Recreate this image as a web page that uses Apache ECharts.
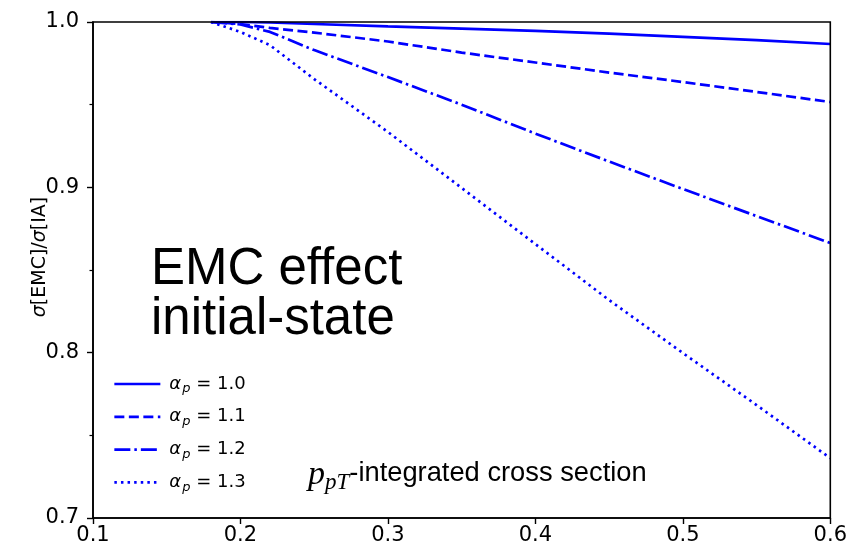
<!DOCTYPE html>
<html lang="en">
  <head>
    <meta charset="UTF-8" />
    <script src="https://cdnjs.cloudflare.com/ajax/libs/echarts/6.0.0/echarts.min.js"></script>
    <title>EMC effect initial-state</title>
  </head>
  <body style="margin: 0">
    <div id="main" style="width: 850px; height: 550px"></div>
    <script>
      // x = p_pT range, ratio sigma[EMC]/sigma[IA] for each alpha_p
      var xValues = [0.18, 0.2, 0.22, 0.25, 0.3, 0.35, 0.4, 0.45, 0.5, 0.55, 0.6];
      var alpha10 = [1.0, 1.0, 0.9997, 0.9988, 0.9973, 0.996, 0.9946, 0.993, 0.991, 0.989, 0.9867];
      var alpha11 = [1.0, 0.9988, 0.9964, 0.9936, 0.9882, 0.9815, 0.9755, 0.9694, 0.9637, 0.9577, 0.9516];
      var alpha12 = [1.0, 0.9985, 0.994, 0.983, 0.9667, 0.95, 0.9325, 0.9156, 0.899, 0.8826, 0.8663];
      var alpha13 = [1.0, 0.994, 0.986, 0.9655, 0.9335, 0.8996, 0.8657, 0.8318, 0.7998, 0.7683, 0.7362];
      var alphaLabels = ["1.0", "1.1", "1.2", "1.3"];
      var dashTypes = ["solid", [10, 4.5], [16, 4, 2.5, 4], [2.5, 4.1]];

      var chart = echarts.init(document.getElementById("main"));

      var allSeries = [alpha10, alpha11, alpha12, alpha13];
      var seriesList = allSeries.map(function (vals, i) {
        return {
          name: alphaLabels[i],
          type: "line",
          symbol: "none",
          smooth: false,
          z: 2,
          data: xValues.map(function (x, j) {
            return [x, vals[j]];
          }),
          lineStyle: { color: "#0000ff", width: 2.7, type: dashTypes[i], cap: "butt" },
          itemStyle: { color: "#0000ff" },
        };
      });

      var tickFont = { fontFamily: "DejaVu Sans", fontSize: 21, color: "#000" };

      var option = {
        animation: false,
        backgroundColor: "#fff",
        grid: {
          left: 93,
          right: 17,
          top: 22,
          bottom: 32,
          show: true,
          borderColor: "#000",
          borderWidth: 1.6,
          z: 5,
        },
        legend: {
          orient: "vertical",
          left: 108,
          top: 370,
          itemWidth: 46,
          itemHeight: 12,
          itemGap: 12.3,
          data: alphaLabels,
          itemStyle: { opacity: 0 },
          lineStyle: { width: 2.7 },
          formatter: function (name) {
            return "{a|α}{s|p}{b| = " + name + "}";
          },
          textStyle: {
            fontFamily: "DejaVu Sans",
            fontSize: 18,
            color: "#000",
            rich: {
              a: { fontFamily: "DejaVu Sans", fontStyle: "italic", fontSize: 18, color: "#000", padding: [0, 1, 0, 4] },
              s: { fontFamily: "DejaVu Sans", fontStyle: "italic", fontSize: 13, color: "#000", padding: [10, 0, 0, 0] },
              b: { fontFamily: "DejaVu Sans", fontSize: 18, color: "#000" },
            },
          },
        },
        xAxis: {
          type: "value",
          min: 0.1,
          max: 0.6,
          interval: 0.1,
          z: 6,
          axisLine: { show: true, lineStyle: { color: "#000", width: 1.6 } },
          axisTick: { show: true, inside: false, length: 6, lineStyle: { color: "#000", width: 1.4 } },
          axisLabel: Object.assign({ margin: 7, formatter: function (v) { return v.toFixed(1); } }, tickFont),
          splitLine: { show: false },
        },
        yAxis: {
          type: "value",
          min: 0.7,
          max: 1.0,
          interval: 0.1,
          z: 6,
          name: "{i|σ}[EMC]/{i|σ}[IA]",
          nameLocation: "middle",
          nameGap: 43,
          nameMoveOverlap: false,
          nameTextStyle: {
            fontFamily: "DejaVu Sans",
            fontSize: 19,
            color: "#000",
            padding: [0, 0, 0, 26],
            rich: {
              i: { fontFamily: "DejaVu Sans", fontStyle: "italic", fontSize: 19, color: "#000" },
            },
          },
          axisLine: { show: true, lineStyle: { color: "#000", width: 1.6 } },
          axisTick: { show: true, inside: false, length: 6, lineStyle: { color: "#000", width: 1.4 } },
          minorTick: { show: true, splitNumber: 2, length: 3.5, lineStyle: { color: "#000", width: 1.2 } },
          axisLabel: Object.assign({ margin: 14, formatter: function (v) { return v.toFixed(1); } }, tickFont),
          splitLine: { show: false },
        },
        graphic: [
          {
            type: "text",
            left: 151,
            top: 244,
            style: {
              text: "EMC effect\ninitial-state",
              fontFamily: "Liberation Sans",
              fontSize: 51,
              lineHeight: 50,
              fill: "#000",
            },
          },
          {
            type: "text",
            left: 308,
            top: 458,
            style: {
              text: "{p|p}{s|pT}{t|-integrated cross section}",
              rich: {
                p: { fontFamily: "Liberation Serif", fontStyle: "italic", fontSize: 34, fill: "#000" },
                s: { fontFamily: "Liberation Serif", fontStyle: "italic", fontSize: 23, fill: "#000", padding: [15, 0, 0, 0] },
                t: { fontFamily: "Liberation Sans", fontSize: 27.3, fill: "#000", padding: [0, 0, 4, 0] },
              },
            },
          },
        ],
        series: seriesList,
      };

      chart.setOption(option);
    </script>
  </body>
</html>
